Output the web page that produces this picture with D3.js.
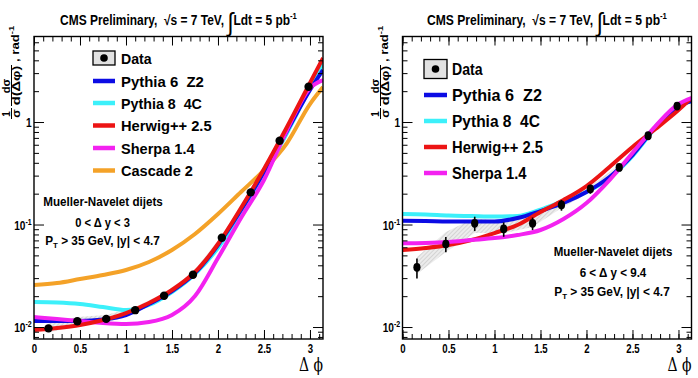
<!DOCTYPE html>
<html lang="en">
<head>
<meta charset="utf-8">
<title>Mueller-Navelet dijets, azimuthal decorrelation</title>
<script src="https://cdn.jsdelivr.net/npm/d3@7"></script>
<style>
  body { margin: 0; background: #fff; }
  svg text { font-family: "Liberation Sans", Arial, sans-serif; font-weight: bold; fill: #000; white-space: pre; }
  svg text.serif { font-family: "DejaVu Serif", "Liberation Serif", serif; font-weight: normal; }
</style>
</head>
<body>
<svg id="chart" width="698" height="378"></svg>
<script>
var phiGrid = [0, 0.25, 0.5, 0.75, 1.0, 1.25, 1.5, 1.75, 2.0, 2.25, 2.5, 2.75, 3.0, 3.1416];
// bin centres of the measurement
var phiBins = [0.157, 0.471, 0.785, 1.100, 1.414, 1.728, 2.042, 2.356, 2.670, 2.985];
var xMajor = [0, 0.5, 1, 1.5, 2, 2.5, 3];
var yMajor = [0.01, 0.1, 1];

// left: 0 < dy < 3
var dataA   = [0.0097, 0.0114, 0.0120, 0.0146, 0.0202, 0.0324, 0.0743, 0.206, 0.657, 2.21];
var errA    = [0.06, 0.05, 0.05, 0.05, 0.05, 0.05, 0.05, 0.05, 0.05, 0.05];
var sysLoA  = [0.0088, 0.0104, 0.0110, 0.0136, 0.0190, 0.0306, 0.0705, 0.196, 0.628, 2.12];
var sysHiA  = [0.0108, 0.0125, 0.0131, 0.0157, 0.0215, 0.0343, 0.0782, 0.217, 0.687, 2.31];
var pythia6A = [0.01144, 0.01144, 0.01144, 0.01183, 0.01310, 0.01677, 0.02245, 0.03363, 0.0631, 0.1385, 0.3252, 0.817, 2.052, 3.216];
var pythia8A = [0.01753, 0.01734, 0.01677, 0.01567, 0.01465, 0.01640, 0.02196, 0.03289, 0.0590, 0.1266, 0.3041, 0.781, 2.147, 3.764];
var herwigA  = [0.00935, 0.00978, 0.01046, 0.0117, 0.0137, 0.01715, 0.02296, 0.0344, 0.0645, 0.1449, 0.3479, 0.894, 2.402, 4.211];
var sherpaA  = [0.01252, 0.01197, 0.01144, 0.01094, 0.0107, 0.01119, 0.0131, 0.02006, 0.0471, 0.1157, 0.2717, 0.8356, 2.147, 2.569];
var cascadeA = [0.02569, 0.02687, 0.02939, 0.03216, 0.03598, 0.04306, 0.05637, 0.0808, 0.1266, 0.2075, 0.3401, 0.6238, 1.498, 2.195];

// right: 6 < dy < 9.4
var dataB   = [0.0382, 0.0645, 0.1027, 0.0904, 0.1027, 0.155, 0.222, 0.361, 0.735, 1.432];
var errB    = [0.22, 0.17, 0.16, 0.16, 0.14, 0.12, 0.10, 0.06, 0.05, 0.05];
var sysLoB  = [0.0329, 0.0539, 0.0826, 0.0826, 0.0946, 0.145, 0.2075, 0.340, 0.698, 1.370];
var sysHiB  = [0.0482, 0.0845, 0.1157, 0.1057, 0.1238, 0.166, 0.2375, 0.3805, 0.781, 1.498];
var pythia6B = [0.1089, 0.1082, 0.1070, 0.1070, 0.1070, 0.1157, 0.1354, 0.1621, 0.2075, 0.2906, 0.4764, 0.894, 1.432, 1.603];
var pythia8B = [0.1266, 0.1252, 0.1224, 0.1210, 0.1197, 0.1210, 0.1400, 0.1700, 0.2075, 0.2842, 0.4658, 0.874, 1.432, 1.603];
var herwigB  = [0.05637, 0.0590, 0.0631, 0.0706, 0.0826, 0.0989, 0.1324, 0.1734, 0.2375, 0.3639, 0.5703, 0.8546, 1.309, 1.714];
var sherpaB  = [0.0655, 0.0660, 0.0675, 0.0706, 0.0738, 0.0790, 0.0884, 0.1132, 0.1621, 0.2717, 0.4983, 0.914, 1.498, 1.714];

var colors = { p6: "#0c0ce4", p8: "#3cf0fa", hw: "#ec1414", sh: "#f322f0", cs: "#f4a228" };

var frameTop = 36.5, frameBottom = 339;
var svg = d3.select("#chart");
var defs = svg.append("defs");

var pat = defs.append("pattern").attr("id", "hatch").attr("width", 3).attr("height", 3)
  .attr("patternUnits", "userSpaceOnUse").attr("patternTransform", "rotate(45)");
pat.append("rect").attr("width", 3).attr("height", 3).attr("fill", "#ececec");
pat.append("line").attr("x1", 0).attr("y1", 0).attr("x2", 0).attr("y2", 3)
  .attr("stroke", "#bdbdbd").attr("stroke-width", 1);

var y = d3.scaleLog().domain([0.00764, 6.83]).range([frameBottom, frameTop]);

// text helper: draws at (x,y), then squeezes horizontally to a target width
function label(parent, x, yy, size, anchor, width, build) {
  var g = parent.append("g").attr("transform", "translate(" + x + "," + yy + ")");
  var t = g.append("text").attr("font-size", size).attr("text-anchor", anchor);
  build(t);
  if (width) {
    var w = t.node().getBBox().width;
    t.attr("transform", "scale(" + (width / w) + ",1)");
  }
  return t;
}
function plain(s) { return function(t) { t.text(s); }; }
function ptLabel(t) {
  t.append("tspan").text("P");
  t.append("tspan").attr("font-size", 8).attr("dy", 3).text("T");
  t.append("tspan").attr("dy", -3).text(" > 35 GeV, |y| < 4.7");
}

var panels = [
  {
    left: 34, right: 323, data: dataA, err: errA, sysLo: sysLoA, sysHi: sysHiA,
    models: [
      { name: "Pythia 6  Z2", color: colors.p6, values: pythia6A, w: 83 },
      { name: "Pythia 8  4C", color: colors.p8, values: pythia8A, w: 81 },
      { name: "Herwig++ 2.5", color: colors.hw, values: herwigA, w: 91 },
      { name: "Sherpa 1.4", color: colors.sh, values: sherpaA, w: 74 },
      { name: "Cascade 2", color: colors.cs, values: cascadeA, w: 72 }
    ],
    drawOrder: [4, 1, 0, 3, 2],
    title: { x: 178.5, w: 237 },
    legend: { x0: 93, x1: 115, tx: 121, rows: [58, 81, 103, 125.5, 148, 170.5], size: 15.5, dataW: 31, box: [51, 65] },
    notes: [
      { x: 103, y: 206, w: 120, build: plain("Mueller-Navelet dijets") },
      { x: 102.5, y: 226.5, w: 55, build: plain("0 < \u0394 y < 3") },
      { x: 102.5, y: 245, w: 115, build: ptLabel }
    ],
    yTitleX: 11, markR: [4.2, 4.2]
  },
  {
    left: 402.5, right: 691.5, data: dataB, err: errB, sysLo: sysLoB, sysHi: sysHiB,
    models: [
      { name: "Pythia 6  Z2", color: colors.p6, values: pythia6B, w: 90 },
      { name: "Pythia 8  4C", color: colors.p8, values: pythia8B, w: 88 },
      { name: "Herwig++ 2.5", color: colors.hw, values: herwigB, w: 91 },
      { name: "Sherpa 1.4", color: colors.sh, values: sherpaB, w: 75 }
    ],
    drawOrder: [1, 0, 2, 3],
    title: { x: 547, w: 240 },
    legend: { x0: 424, x1: 447, tx: 452, rows: [69, 95, 121, 147, 173], size: 17, dataW: 31, box: [59.5, 78.5] },
    notes: [
      { x: 613, y: 256, w: 119, build: plain("Mueller-Navelet dijets") },
      { x: 613, y: 277, w: 67, build: plain("6 < \u0394 y < 9.4") },
      { x: 612, y: 296, w: 116, build: ptLabel }
    ],
    yTitleX: 380, markR: [3.6, 4.4]
  }
];

function drawPanel(p, idx) {
  var x = d3.scaleLinear().domain([0, Math.PI]).range([p.left, p.right]);
  var g = svg.append("g");
  var clipId = "clip" + idx;
  defs.append("clipPath").attr("id", clipId).append("rect")
    .attr("x", p.left).attr("y", frameTop).attr("width", p.right - p.left).attr("height", frameBottom - frameTop);
  var plot = g.append("g").attr("clip-path", "url(#" + clipId + ")");

  // systematic band
  var band = d3.area()
    .x(function(d, i) { return x(phiBins[i]); })
    .y0(function(d) { return y(d[0]); })
    .y1(function(d) { return y(d[1]); });
  plot.append("path").datum(d3.zip(p.sysLo, p.sysHi)).attr("d", band).attr("fill", "url(#hatch)");

  // model curves
  var line = d3.line()
    .x(function(d, i) { return x(phiGrid[i]); })
    .y(function(d) { return y(d); })
    .curve(d3.curveMonotoneX);
  p.drawOrder.forEach(function(k) {
    var m = p.models[k];
    plot.append("path").datum(m.values).attr("d", line)
      .attr("fill", "none").attr("stroke", m.color).attr("stroke-width", 4);
  });

  // data points
  var pts = g.append("g");
  pts.selectAll("line").data(p.data).enter().append("line")
    .attr("x1", function(d, i) { return x(phiBins[i]); })
    .attr("x2", function(d, i) { return x(phiBins[i]); })
    .attr("y1", function(d, i) { return y(d * (1 - p.err[i])); })
    .attr("y2", function(d, i) { return y(d * (1 + p.err[i])); })
    .attr("stroke", "#000").attr("stroke-width", 1.6);
  pts.selectAll("ellipse").data(p.data).enter().append("ellipse")
    .attr("cx", function(d, i) { return x(phiBins[i]); })
    .attr("cy", function(d) { return y(d); })
    .attr("rx", p.markR[0]).attr("ry", p.markR[1]).attr("fill", "#000");

  // frame
  g.append("rect").attr("x", p.left).attr("y", frameTop)
    .attr("width", p.right - p.left).attr("height", frameBottom - frameTop)
    .attr("fill", "none").attr("stroke", "#000").attr("stroke-width", 1.4);

  // ticks, all pointing inwards
  var xMinor = d3.range(0, 3.15, 0.1);
  var yMinor = y.ticks().filter(function(v) { return yMajor.indexOf(+v.toPrecision(3)) < 0; });
  function strip(a) { a.select(".domain").remove(); a.selectAll("line").attr("stroke-width", 1); }
  [[d3.axisBottom, "0," + frameBottom], [d3.axisTop, "0," + frameTop]].forEach(function(ax) {
    g.append("g").attr("transform", "translate(" + ax[1] + ")")
      .call(ax[0](x).tickValues(xMinor).tickSize(-5).tickFormat("")).call(strip);
    g.append("g").attr("transform", "translate(" + ax[1] + ")")
      .call(ax[0](x).tickValues(xMajor).tickSize(-9).tickFormat("")).call(strip);
  });
  [[d3.axisLeft, p.left + ",0"], [d3.axisRight, p.right + ",0"]].forEach(function(ax) {
    g.append("g").attr("transform", "translate(" + ax[1] + ")")
      .call(ax[0](y).tickValues(yMinor).tickSize(-5).tickFormat("")).call(strip);
    g.append("g").attr("transform", "translate(" + ax[1] + ")")
      .call(ax[0](y).tickValues(yMajor).tickSize(-10).tickFormat("")).call(strip);
  });

  // x tick labels
  var xl = g.append("g").attr("transform", "translate(0," + frameBottom + ")")
    .call(d3.axisBottom(x).tickValues(xMajor).tickSize(0).tickPadding(5).tickFormat(d3.format("~g")));
  xl.select(".domain").remove();
  xl.attr("font-family", null).attr("font-size", null);
  xl.selectAll("text").attr("font-size", 13).attr("transform", "scale(0.74,1)");

  // y tick labels
  var yl = g.append("g").attr("transform", "translate(" + p.left + ",0)")
    .call(d3.axisLeft(y).tickValues(yMajor).tickSize(0).tickPadding(3).tickFormat(""));
  yl.select(".domain").remove();
  yl.attr("font-family", null).attr("font-size", null);
  yl.selectAll("text").attr("font-size", 13).attr("dy", "0.36em").attr("transform", "scale(0.78,1)")
    .each(function(d) {
      var t = d3.select(this);
      if (d === 1) { t.text("1"); return; }
      t.append("tspan").text("10");
      t.append("tspan").attr("font-size", 9).attr("dy", -5).text("-" + Math.round(-Math.log10(d)));
    });

  // x axis title
  label(g, p.right, 371, 19, "end", 24, function(t) { t.attr("class", "serif").text("\u0394 \u03d5"); });

  // y axis title (rotated)
  var yt = g.append("g").attr("transform", "translate(" + p.yTitleX + ",122) rotate(-90)");
  label(yt, 8, -1, 10, "middle", 6, plain("1"));
  yt.append("line").attr("x1", 3).attr("x2", 14).attr("y1", 0.5).attr("y2", 0.5).attr("stroke", "#000").attr("stroke-width", 1);
  label(yt, 8.5, 9, 11, "middle", 9, plain("\u03c3"));
  label(yt, 36, -1, 11, "middle", 15, plain("d\u03c3"));
  yt.append("line").attr("x1", 16).attr("x2", 57).attr("y1", 0.5).attr("y2", 0.5).attr("stroke", "#000").attr("stroke-width", 1);
  label(yt, 36.5, 8.5, 11, "middle", 40, plain("d(\u0394\u03c6)"));
  label(yt, 60, 8, 11, "start", 37, function(t) {
    t.append("tspan").text(", rad");
    t.append("tspan").attr("font-size", 8).attr("dy", -5).text("-1");
  });

  // title
  label(g, p.title.x, 25, 14, "middle", p.title.w, function(t) {
    t.append("tspan").text("CMS Preliminary,  \u221As = 7 TeV, ");
    t.append("tspan").attr("font-size", 26).attr("font-weight", "normal").attr("dy", 6).text("\u222b");
    t.append("tspan").attr("dy", -6).text("Ldt = 5 pb");
    t.append("tspan").attr("font-size", 9).attr("dy", -6).text("-1");
  });

  // legend
  var L = p.legend;
  var lg = g.append("g");
  lg.append("rect").attr("x", L.x0).attr("y", L.box[0]).attr("width", L.x1 - L.x0).attr("height", L.box[1] - L.box[0])
    .attr("fill", "#e2e2e2").attr("stroke", "#000").attr("stroke-width", 1.3);
  lg.append("circle").attr("cx", (L.x0 + L.x1) / 2).attr("cy", (L.box[0] + L.box[1]) / 2).attr("r", 3.8).attr("fill", "#000");
  label(lg, L.tx, L.rows[0] + L.size * 0.36, L.size, "start", L.dataW, plain("Data"));
  p.models.forEach(function(m, i) {
    var ry = L.rows[i + 1];
    lg.append("line").attr("x1", L.x0).attr("x2", L.x1).attr("y1", ry).attr("y2", ry)
      .attr("stroke", m.color).attr("stroke-width", 4.5);
    label(lg, L.tx, ry + L.size * 0.36, L.size, "start", m.w, plain(m.name));
  });

  // annotation
  p.notes.forEach(function(n) { label(g, n.x, n.y, 12, "middle", n.w, n.build); });
}

panels.forEach(drawPanel);
</script>
</body>
</html>
